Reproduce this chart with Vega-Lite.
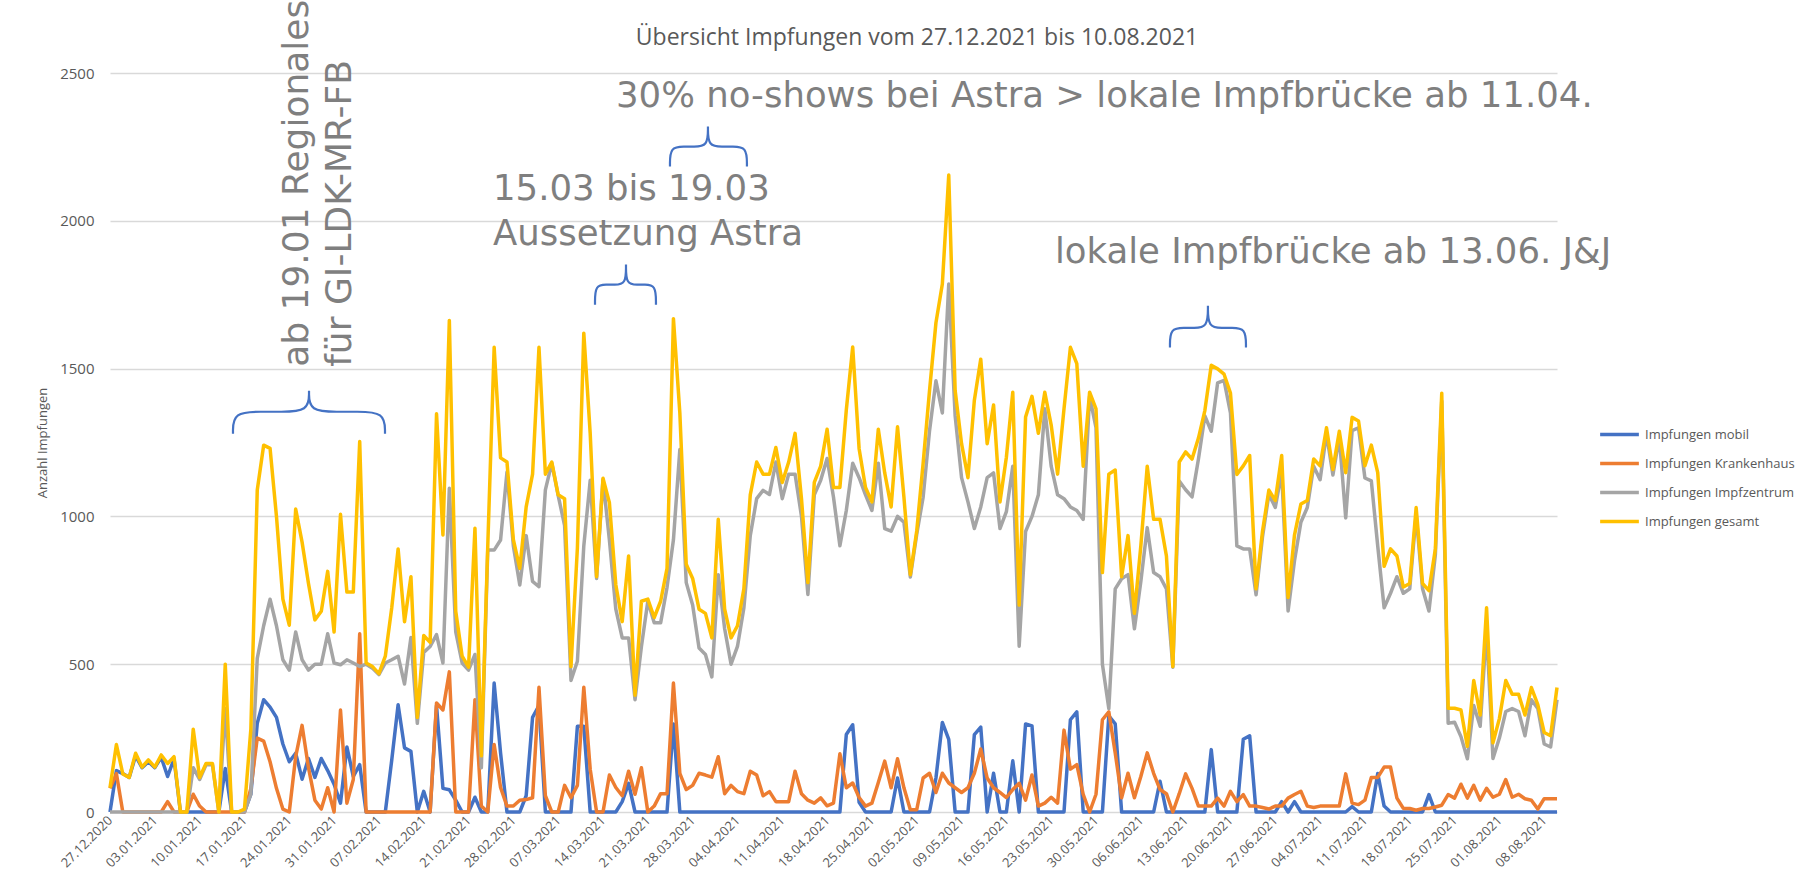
{
  "$schema": "https://vega.github.io/schema/vega-lite/v6.json",
  "width": 1447,
  "height": 739,
  "autosize": {"type": "none"},
  "padding": {"left": 110, "top": 73, "right": 259, "bottom": 82},
  "background": "white",
  "config": {
    "view": {"stroke": null},
    "font": "Open Sans",
    "axisY": {"domain": false, "ticks": false, "gridColor": "#D9D9D9", "gridWidth": 1.5, "labelColor": "#595959", "labelFontSize": 15, "labelPadding": 16, "titleColor": "#595959", "titleFontSize": 13, "titleFontWeight": "normal", "titlePadding": 10},
    "axisX": {"grid": false, "domain": false, "ticks": false, "labelColor": "#595959", "labelFontSize": 13, "labelAngle": -45, "labelAlign": "right", "labelBaseline": "middle", "labelPadding": 6, "labelOverlap": false, "labelBound": false}
  },
  "data": {"values": [
    {"datum":"2020-12-27","mobil":0,"Krankenhaus":80,"Impfzentrum":0,"gesamt":82},
    {"datum":"2020-12-28","mobil":140,"Krankenhaus":130,"Impfzentrum":0,"gesamt":228},
    {"datum":"2020-12-29","mobil":130,"Krankenhaus":0,"Impfzentrum":0,"gesamt":129},
    {"datum":"2020-12-30","mobil":117,"Krankenhaus":0,"Impfzentrum":0,"gesamt":117},
    {"datum":"2020-12-31","mobil":190,"Krankenhaus":0,"Impfzentrum":0,"gesamt":199},
    {"datum":"2021-01-01","mobil":150,"Krankenhaus":0,"Impfzentrum":0,"gesamt":152},
    {"datum":"2021-01-02","mobil":170,"Krankenhaus":0,"Impfzentrum":0,"gesamt":176},
    {"datum":"2021-01-03","mobil":150,"Krankenhaus":0,"Impfzentrum":0,"gesamt":152},
    {"datum":"2021-01-04","mobil":185,"Krankenhaus":0,"Impfzentrum":0,"gesamt":193},
    {"datum":"2021-01-05","mobil":120,"Krankenhaus":35,"Impfzentrum":0,"gesamt":164},
    {"datum":"2021-01-06","mobil":180,"Krankenhaus":0,"Impfzentrum":0,"gesamt":187},
    {"datum":"2021-01-07","mobil":0,"Krankenhaus":0,"Impfzentrum":0,"gesamt":0},
    {"datum":"2021-01-08","mobil":0,"Krankenhaus":0,"Impfzentrum":0,"gesamt":0},
    {"datum":"2021-01-09","mobil":0,"Krankenhaus":60,"Impfzentrum":150,"gesamt":280},
    {"datum":"2021-01-10","mobil":0,"Krankenhaus":20,"Impfzentrum":110,"gesamt":117},
    {"datum":"2021-01-11","mobil":0,"Krankenhaus":0,"Impfzentrum":160,"gesamt":164},
    {"datum":"2021-01-12","mobil":0,"Krankenhaus":0,"Impfzentrum":160,"gesamt":164},
    {"datum":"2021-01-13","mobil":0,"Krankenhaus":0,"Impfzentrum":0,"gesamt":0},
    {"datum":"2021-01-14","mobil":147,"Krankenhaus":0,"Impfzentrum":350,"gesamt":500},
    {"datum":"2021-01-15","mobil":0,"Krankenhaus":0,"Impfzentrum":0,"gesamt":0},
    {"datum":"2021-01-16","mobil":0,"Krankenhaus":0,"Impfzentrum":0,"gesamt":0},
    {"datum":"2021-01-17","mobil":0,"Krankenhaus":0,"Impfzentrum":0,"gesamt":10},
    {"datum":"2021-01-18","mobil":60,"Krankenhaus":80,"Impfzentrum":60,"gesamt":280},
    {"datum":"2021-01-19","mobil":300,"Krankenhaus":250,"Impfzentrum":520,"gesamt":1089},
    {"datum":"2021-01-20","mobil":380,"Krankenhaus":240,"Impfzentrum":630,"gesamt":1241},
    {"datum":"2021-01-21","mobil":355,"Krankenhaus":170,"Impfzentrum":720,"gesamt":1230},
    {"datum":"2021-01-22","mobil":320,"Krankenhaus":80,"Impfzentrum":630,"gesamt":1000},
    {"datum":"2021-01-23","mobil":230,"Krankenhaus":10,"Impfzentrum":515,"gesamt":720},
    {"datum":"2021-01-24","mobil":170,"Krankenhaus":0,"Impfzentrum":480,"gesamt":632},
    {"datum":"2021-01-25","mobil":199,"Krankenhaus":187,"Impfzentrum":609,"gesamt":1025},
    {"datum":"2021-01-26","mobil":111,"Krankenhaus":293,"Impfzentrum":515,"gesamt":913},
    {"datum":"2021-01-27","mobil":181,"Krankenhaus":150,"Impfzentrum":480,"gesamt":773},
    {"datum":"2021-01-28","mobil":117,"Krankenhaus":40,"Impfzentrum":500,"gesamt":650},
    {"datum":"2021-01-29","mobil":181,"Krankenhaus":10,"Impfzentrum":500,"gesamt":679},
    {"datum":"2021-01-30","mobil":140,"Krankenhaus":82,"Impfzentrum":603,"gesamt":814},
    {"datum":"2021-01-31","mobil":94,"Krankenhaus":0,"Impfzentrum":504,"gesamt":609},
    {"datum":"2021-02-01","mobil":30,"Krankenhaus":345,"Impfzentrum":498,"gesamt":1007},
    {"datum":"2021-02-02","mobil":220,"Krankenhaus":30,"Impfzentrum":515,"gesamt":744},
    {"datum":"2021-02-03","mobil":120,"Krankenhaus":110,"Impfzentrum":504,"gesamt":744},
    {"datum":"2021-02-04","mobil":160,"Krankenhaus":603,"Impfzentrum":492,"gesamt":1253},
    {"datum":"2021-02-05","mobil":0,"Krankenhaus":0,"Impfzentrum":500,"gesamt":504},
    {"datum":"2021-02-06","mobil":0,"Krankenhaus":0,"Impfzentrum":486,"gesamt":492},
    {"datum":"2021-02-07","mobil":0,"Krankenhaus":0,"Impfzentrum":465,"gesamt":468},
    {"datum":"2021-02-08","mobil":0,"Krankenhaus":0,"Impfzentrum":504,"gesamt":527},
    {"datum":"2021-02-09","mobil":175,"Krankenhaus":0,"Impfzentrum":515,"gesamt":690},
    {"datum":"2021-02-10","mobil":363,"Krankenhaus":0,"Impfzentrum":527,"gesamt":890},
    {"datum":"2021-02-11","mobil":217,"Krankenhaus":0,"Impfzentrum":433,"gesamt":644},
    {"datum":"2021-02-12","mobil":205,"Krankenhaus":0,"Impfzentrum":590,"gesamt":796},
    {"datum":"2021-02-13","mobil":0,"Krankenhaus":0,"Impfzentrum":300,"gesamt":320},
    {"datum":"2021-02-14","mobil":70,"Krankenhaus":0,"Impfzentrum":540,"gesamt":597},
    {"datum":"2021-02-15","mobil":0,"Krankenhaus":0,"Impfzentrum":560,"gesamt":574},
    {"datum":"2021-02-16","mobil":360,"Krankenhaus":369,"Impfzentrum":600,"gesamt":1347},
    {"datum":"2021-02-17","mobil":80,"Krankenhaus":345,"Impfzentrum":504,"gesamt":937},
    {"datum":"2021-02-18","mobil":75,"Krankenhaus":474,"Impfzentrum":1095,"gesamt":1663},
    {"datum":"2021-02-19","mobil":40,"Krankenhaus":0,"Impfzentrum":609,"gesamt":679},
    {"datum":"2021-02-20","mobil":0,"Krankenhaus":0,"Impfzentrum":504,"gesamt":527},
    {"datum":"2021-02-21","mobil":0,"Krankenhaus":0,"Impfzentrum":480,"gesamt":490},
    {"datum":"2021-02-22","mobil":50,"Krankenhaus":380,"Impfzentrum":533,"gesamt":960},
    {"datum":"2021-02-23","mobil":0,"Krankenhaus":20,"Impfzentrum":150,"gesamt":190},
    {"datum":"2021-02-24","mobil":0,"Krankenhaus":0,"Impfzentrum":886,"gesamt":900},
    {"datum":"2021-02-25","mobil":436,"Krankenhaus":228,"Impfzentrum":886,"gesamt":1572},
    {"datum":"2021-02-26","mobil":200,"Krankenhaus":83,"Impfzentrum":920,"gesamt":1198},
    {"datum":"2021-02-27","mobil":0,"Krankenhaus":20,"Impfzentrum":1150,"gesamt":1184},
    {"datum":"2021-02-28","mobil":0,"Krankenhaus":20,"Impfzentrum":900,"gesamt":921},
    {"datum":"2021-03-01","mobil":0,"Krankenhaus":40,"Impfzentrum":768,"gesamt":824},
    {"datum":"2021-03-02","mobil":55,"Krankenhaus":42,"Impfzentrum":935,"gesamt":1032},
    {"datum":"2021-03-03","mobil":320,"Krankenhaus":48,"Impfzentrum":780,"gesamt":1143},
    {"datum":"2021-03-04","mobil":360,"Krankenhaus":422,"Impfzentrum":762,"gesamt":1572},
    {"datum":"2021-03-05","mobil":0,"Krankenhaus":55,"Impfzentrum":1090,"gesamt":1143},
    {"datum":"2021-03-06","mobil":0,"Krankenhaus":0,"Impfzentrum":1180,"gesamt":1184},
    {"datum":"2021-03-07","mobil":0,"Krankenhaus":0,"Impfzentrum":1070,"gesamt":1073},
    {"datum":"2021-03-08","mobil":0,"Krankenhaus":90,"Impfzentrum":970,"gesamt":1060},
    {"datum":"2021-03-09","mobil":0,"Krankenhaus":48,"Impfzentrum":445,"gesamt":492},
    {"datum":"2021-03-10","mobil":290,"Krankenhaus":90,"Impfzentrum":510,"gesamt":893},
    {"datum":"2021-03-11","mobil":290,"Krankenhaus":422,"Impfzentrum":900,"gesamt":1620},
    {"datum":"2021-03-12","mobil":0,"Krankenhaus":145,"Impfzentrum":1122,"gesamt":1281},
    {"datum":"2021-03-13","mobil":0,"Krankenhaus":0,"Impfzentrum":790,"gesamt":796},
    {"datum":"2021-03-14","mobil":0,"Krankenhaus":0,"Impfzentrum":1125,"gesamt":1129},
    {"datum":"2021-03-15","mobil":0,"Krankenhaus":125,"Impfzentrum":920,"gesamt":1046},
    {"datum":"2021-03-16","mobil":0,"Krankenhaus":83,"Impfzentrum":686,"gesamt":769},
    {"datum":"2021-03-17","mobil":35,"Krankenhaus":55,"Impfzentrum":589,"gesamt":644},
    {"datum":"2021-03-18","mobil":97,"Krankenhaus":138,"Impfzentrum":589,"gesamt":866},
    {"datum":"2021-03-19","mobil":0,"Krankenhaus":60,"Impfzentrum":380,"gesamt":395},
    {"datum":"2021-03-20","mobil":0,"Krankenhaus":150,"Impfzentrum":560,"gesamt":713},
    {"datum":"2021-03-21","mobil":0,"Krankenhaus":0,"Impfzentrum":713,"gesamt":720},
    {"datum":"2021-03-22","mobil":0,"Krankenhaus":20,"Impfzentrum":640,"gesamt":658},
    {"datum":"2021-03-23","mobil":0,"Krankenhaus":62,"Impfzentrum":640,"gesamt":713},
    {"datum":"2021-03-24","mobil":0,"Krankenhaus":62,"Impfzentrum":760,"gesamt":824},
    {"datum":"2021-03-25","mobil":298,"Krankenhaus":436,"Impfzentrum":921,"gesamt":1669},
    {"datum":"2021-03-26","mobil":0,"Krankenhaus":131,"Impfzentrum":1226,"gesamt":1350},
    {"datum":"2021-03-27","mobil":0,"Krankenhaus":76,"Impfzentrum":776,"gesamt":838},
    {"datum":"2021-03-28","mobil":0,"Krankenhaus":90,"Impfzentrum":700,"gesamt":790},
    {"datum":"2021-03-29","mobil":0,"Krankenhaus":131,"Impfzentrum":555,"gesamt":686},
    {"datum":"2021-03-30","mobil":0,"Krankenhaus":125,"Impfzentrum":533,"gesamt":672},
    {"datum":"2021-03-31","mobil":0,"Krankenhaus":118,"Impfzentrum":457,"gesamt":589},
    {"datum":"2021-04-01","mobil":0,"Krankenhaus":187,"Impfzentrum":803,"gesamt":990},
    {"datum":"2021-04-02","mobil":0,"Krankenhaus":62,"Impfzentrum":620,"gesamt":686},
    {"datum":"2021-04-03","mobil":0,"Krankenhaus":90,"Impfzentrum":500,"gesamt":589},
    {"datum":"2021-04-04","mobil":0,"Krankenhaus":69,"Impfzentrum":560,"gesamt":630},
    {"datum":"2021-04-05","mobil":0,"Krankenhaus":62,"Impfzentrum":690,"gesamt":755},
    {"datum":"2021-04-06","mobil":0,"Krankenhaus":138,"Impfzentrum":935,"gesamt":1073},
    {"datum":"2021-04-07","mobil":0,"Krankenhaus":125,"Impfzentrum":1060,"gesamt":1184},
    {"datum":"2021-04-08","mobil":0,"Krankenhaus":55,"Impfzentrum":1088,"gesamt":1143},
    {"datum":"2021-04-09","mobil":0,"Krankenhaus":69,"Impfzentrum":1074,"gesamt":1143},
    {"datum":"2021-04-10","mobil":0,"Krankenhaus":35,"Impfzentrum":1184,"gesamt":1233},
    {"datum":"2021-04-11","mobil":0,"Krankenhaus":35,"Impfzentrum":1060,"gesamt":1115},
    {"datum":"2021-04-12","mobil":0,"Krankenhaus":35,"Impfzentrum":1143,"gesamt":1184},
    {"datum":"2021-04-13","mobil":0,"Krankenhaus":138,"Impfzentrum":1143,"gesamt":1281},
    {"datum":"2021-04-14","mobil":0,"Krankenhaus":62,"Impfzentrum":1000,"gesamt":1060},
    {"datum":"2021-04-15","mobil":0,"Krankenhaus":40,"Impfzentrum":736,"gesamt":776},
    {"datum":"2021-04-16","mobil":0,"Krankenhaus":30,"Impfzentrum":1073,"gesamt":1115},
    {"datum":"2021-04-17","mobil":0,"Krankenhaus":48,"Impfzentrum":1122,"gesamt":1170},
    {"datum":"2021-04-18","mobil":0,"Krankenhaus":21,"Impfzentrum":1196,"gesamt":1295},
    {"datum":"2021-04-19","mobil":0,"Krankenhaus":30,"Impfzentrum":1065,"gesamt":1098},
    {"datum":"2021-04-20","mobil":0,"Krankenhaus":197,"Impfzentrum":901,"gesamt":1098},
    {"datum":"2021-04-21","mobil":262,"Krankenhaus":82,"Impfzentrum":1020,"gesamt":1360},
    {"datum":"2021-04-22","mobil":295,"Krankenhaus":98,"Impfzentrum":1180,"gesamt":1573},
    {"datum":"2021-04-23","mobil":33,"Krankenhaus":49,"Impfzentrum":1131,"gesamt":1229},
    {"datum":"2021-04-24","mobil":0,"Krankenhaus":20,"Impfzentrum":1073,"gesamt":1098},
    {"datum":"2021-04-25","mobil":0,"Krankenhaus":30,"Impfzentrum":1020,"gesamt":1049},
    {"datum":"2021-04-26","mobil":0,"Krankenhaus":100,"Impfzentrum":1180,"gesamt":1295},
    {"datum":"2021-04-27","mobil":0,"Krankenhaus":172,"Impfzentrum":959,"gesamt":1147},
    {"datum":"2021-04-28","mobil":0,"Krankenhaus":82,"Impfzentrum":950,"gesamt":1032},
    {"datum":"2021-04-29","mobil":115,"Krankenhaus":180,"Impfzentrum":1000,"gesamt":1303},
    {"datum":"2021-04-30","mobil":0,"Krankenhaus":82,"Impfzentrum":980,"gesamt":1065},
    {"datum":"2021-05-01","mobil":0,"Krankenhaus":8,"Impfzentrum":795,"gesamt":803},
    {"datum":"2021-05-02","mobil":0,"Krankenhaus":8,"Impfzentrum":940,"gesamt":951},
    {"datum":"2021-05-03","mobil":0,"Krankenhaus":115,"Impfzentrum":1065,"gesamt":1180},
    {"datum":"2021-05-04","mobil":0,"Krankenhaus":131,"Impfzentrum":1290,"gesamt":1426},
    {"datum":"2021-05-05","mobil":115,"Krankenhaus":66,"Impfzentrum":1459,"gesamt":1655},
    {"datum":"2021-05-06","mobil":303,"Krankenhaus":131,"Impfzentrum":1350,"gesamt":1786},
    {"datum":"2021-05-07","mobil":246,"Krankenhaus":98,"Impfzentrum":1786,"gesamt":2155},
    {"datum":"2021-05-08","mobil":0,"Krankenhaus":82,"Impfzentrum":1340,"gesamt":1426},
    {"datum":"2021-05-09","mobil":0,"Krankenhaus":66,"Impfzentrum":1131,"gesamt":1246},
    {"datum":"2021-05-10","mobil":0,"Krankenhaus":82,"Impfzentrum":1049,"gesamt":1131},
    {"datum":"2021-05-11","mobil":262,"Krankenhaus":131,"Impfzentrum":959,"gesamt":1393},
    {"datum":"2021-05-12","mobil":287,"Krankenhaus":213,"Impfzentrum":1032,"gesamt":1532},
    {"datum":"2021-05-13","mobil":0,"Krankenhaus":115,"Impfzentrum":1131,"gesamt":1246},
    {"datum":"2021-05-14","mobil":131,"Krankenhaus":82,"Impfzentrum":1147,"gesamt":1377},
    {"datum":"2021-05-15","mobil":0,"Krankenhaus":66,"Impfzentrum":959,"gesamt":1049},
    {"datum":"2021-05-16","mobil":0,"Krankenhaus":49,"Impfzentrum":1016,"gesamt":1200},
    {"datum":"2021-05-17","mobil":173,"Krankenhaus":76,"Impfzentrum":1170,"gesamt":1420},
    {"datum":"2021-05-18","mobil":0,"Krankenhaus":97,"Impfzentrum":561,"gesamt":700},
    {"datum":"2021-05-19","mobil":298,"Krankenhaus":40,"Impfzentrum":949,"gesamt":1336},
    {"datum":"2021-05-20","mobil":291,"Krankenhaus":125,"Impfzentrum":1000,"gesamt":1406},
    {"datum":"2021-05-21","mobil":0,"Krankenhaus":20,"Impfzentrum":1073,"gesamt":1281},
    {"datum":"2021-05-22","mobil":0,"Krankenhaus":30,"Impfzentrum":1364,"gesamt":1420},
    {"datum":"2021-05-23","mobil":0,"Krankenhaus":50,"Impfzentrum":1170,"gesamt":1309},
    {"datum":"2021-05-24","mobil":0,"Krankenhaus":30,"Impfzentrum":1073,"gesamt":1143},
    {"datum":"2021-05-25","mobil":0,"Krankenhaus":277,"Impfzentrum":1060,"gesamt":1364},
    {"datum":"2021-05-26","mobil":312,"Krankenhaus":145,"Impfzentrum":1032,"gesamt":1572},
    {"datum":"2021-05-27","mobil":339,"Krankenhaus":160,"Impfzentrum":1020,"gesamt":1517},
    {"datum":"2021-05-28","mobil":0,"Krankenhaus":60,"Impfzentrum":990,"gesamt":1170},
    {"datum":"2021-05-29","mobil":0,"Krankenhaus":0,"Impfzentrum":1406,"gesamt":1420},
    {"datum":"2021-05-30","mobil":0,"Krankenhaus":60,"Impfzentrum":1300,"gesamt":1364},
    {"datum":"2021-05-31","mobil":0,"Krankenhaus":312,"Impfzentrum":500,"gesamt":810},
    {"datum":"2021-06-01","mobil":325,"Krankenhaus":339,"Impfzentrum":350,"gesamt":1143},
    {"datum":"2021-06-02","mobil":298,"Krankenhaus":200,"Impfzentrum":755,"gesamt":1157},
    {"datum":"2021-06-03","mobil":0,"Krankenhaus":48,"Impfzentrum":789,"gesamt":796},
    {"datum":"2021-06-04","mobil":0,"Krankenhaus":131,"Impfzentrum":803,"gesamt":935},
    {"datum":"2021-06-05","mobil":0,"Krankenhaus":48,"Impfzentrum":620,"gesamt":672},
    {"datum":"2021-06-06","mobil":0,"Krankenhaus":120,"Impfzentrum":780,"gesamt":900},
    {"datum":"2021-06-07","mobil":0,"Krankenhaus":200,"Impfzentrum":962,"gesamt":1170},
    {"datum":"2021-06-08","mobil":0,"Krankenhaus":131,"Impfzentrum":810,"gesamt":990},
    {"datum":"2021-06-09","mobil":104,"Krankenhaus":76,"Impfzentrum":796,"gesamt":990},
    {"datum":"2021-06-10","mobil":0,"Krankenhaus":62,"Impfzentrum":755,"gesamt":866},
    {"datum":"2021-06-11","mobil":0,"Krankenhaus":0,"Impfzentrum":490,"gesamt":492},
    {"datum":"2021-06-12","mobil":0,"Krankenhaus":62,"Impfzentrum":1120,"gesamt":1184},
    {"datum":"2021-06-13","mobil":0,"Krankenhaus":129,"Impfzentrum":1090,"gesamt":1218},
    {"datum":"2021-06-14","mobil":0,"Krankenhaus":80,"Impfzentrum":1066,"gesamt":1194},
    {"datum":"2021-06-15","mobil":0,"Krankenhaus":20,"Impfzentrum":1194,"gesamt":1265},
    {"datum":"2021-06-16","mobil":0,"Krankenhaus":20,"Impfzentrum":1340,"gesamt":1358},
    {"datum":"2021-06-17","mobil":211,"Krankenhaus":20,"Impfzentrum":1288,"gesamt":1511},
    {"datum":"2021-06-18","mobil":0,"Krankenhaus":47,"Impfzentrum":1452,"gesamt":1499},
    {"datum":"2021-06-19","mobil":0,"Krankenhaus":20,"Impfzentrum":1460,"gesamt":1481},
    {"datum":"2021-06-20","mobil":0,"Krankenhaus":70,"Impfzentrum":1350,"gesamt":1417},
    {"datum":"2021-06-21","mobil":0,"Krankenhaus":35,"Impfzentrum":900,"gesamt":1142},
    {"datum":"2021-06-22","mobil":246,"Krankenhaus":59,"Impfzentrum":890,"gesamt":1171},
    {"datum":"2021-06-23","mobil":258,"Krankenhaus":20,"Impfzentrum":890,"gesamt":1206},
    {"datum":"2021-06-24","mobil":0,"Krankenhaus":20,"Impfzentrum":735,"gesamt":755},
    {"datum":"2021-06-25","mobil":0,"Krankenhaus":15,"Impfzentrum":930,"gesamt":949},
    {"datum":"2021-06-26","mobil":0,"Krankenhaus":10,"Impfzentrum":1075,"gesamt":1089},
    {"datum":"2021-06-27","mobil":0,"Krankenhaus":20,"Impfzentrum":1030,"gesamt":1054},
    {"datum":"2021-06-28","mobil":35,"Krankenhaus":20,"Impfzentrum":1150,"gesamt":1206},
    {"datum":"2021-06-29","mobil":0,"Krankenhaus":47,"Impfzentrum":680,"gesamt":726},
    {"datum":"2021-06-30","mobil":35,"Krankenhaus":59,"Impfzentrum":850,"gesamt":937},
    {"datum":"2021-07-01","mobil":0,"Krankenhaus":70,"Impfzentrum":980,"gesamt":1042},
    {"datum":"2021-07-02","mobil":0,"Krankenhaus":20,"Impfzentrum":1030,"gesamt":1054},
    {"datum":"2021-07-03","mobil":0,"Krankenhaus":15,"Impfzentrum":1170,"gesamt":1194},
    {"datum":"2021-07-04","mobil":0,"Krankenhaus":20,"Impfzentrum":1124,"gesamt":1171},
    {"datum":"2021-07-05","mobil":0,"Krankenhaus":20,"Impfzentrum":1280,"gesamt":1300},
    {"datum":"2021-07-06","mobil":0,"Krankenhaus":20,"Impfzentrum":1140,"gesamt":1159},
    {"datum":"2021-07-07","mobil":0,"Krankenhaus":20,"Impfzentrum":1268,"gesamt":1288},
    {"datum":"2021-07-08","mobil":0,"Krankenhaus":129,"Impfzentrum":995,"gesamt":1148},
    {"datum":"2021-07-09","mobil":18,"Krankenhaus":30,"Impfzentrum":1290,"gesamt":1335},
    {"datum":"2021-07-10","mobil":0,"Krankenhaus":25,"Impfzentrum":1300,"gesamt":1323},
    {"datum":"2021-07-11","mobil":0,"Krankenhaus":40,"Impfzentrum":1130,"gesamt":1171},
    {"datum":"2021-07-12","mobil":0,"Krankenhaus":117,"Impfzentrum":1120,"gesamt":1241},
    {"datum":"2021-07-13","mobil":130,"Krankenhaus":117,"Impfzentrum":900,"gesamt":1148},
    {"datum":"2021-07-14","mobil":20,"Krankenhaus":152,"Impfzentrum":691,"gesamt":831},
    {"datum":"2021-07-15","mobil":0,"Krankenhaus":152,"Impfzentrum":740,"gesamt":890},
    {"datum":"2021-07-16","mobil":0,"Krankenhaus":47,"Impfzentrum":796,"gesamt":866},
    {"datum":"2021-07-17","mobil":0,"Krankenhaus":12,"Impfzentrum":740,"gesamt":761},
    {"datum":"2021-07-18","mobil":0,"Krankenhaus":12,"Impfzentrum":755,"gesamt":773},
    {"datum":"2021-07-19","mobil":0,"Krankenhaus":6,"Impfzentrum":1007,"gesamt":1030},
    {"datum":"2021-07-20","mobil":0,"Krankenhaus":12,"Impfzentrum":755,"gesamt":773},
    {"datum":"2021-07-21","mobil":59,"Krankenhaus":12,"Impfzentrum":680,"gesamt":749},
    {"datum":"2021-07-22","mobil":0,"Krankenhaus":17,"Impfzentrum":870,"gesamt":890},
    {"datum":"2021-07-23","mobil":0,"Krankenhaus":23,"Impfzentrum":1390,"gesamt":1417},
    {"datum":"2021-07-24","mobil":0,"Krankenhaus":59,"Impfzentrum":300,"gesamt":351},
    {"datum":"2021-07-25","mobil":0,"Krankenhaus":47,"Impfzentrum":304,"gesamt":351},
    {"datum":"2021-07-26","mobil":0,"Krankenhaus":94,"Impfzentrum":255,"gesamt":345},
    {"datum":"2021-07-27","mobil":0,"Krankenhaus":47,"Impfzentrum":180,"gesamt":222},
    {"datum":"2021-07-28","mobil":0,"Krankenhaus":90,"Impfzentrum":360,"gesamt":445},
    {"datum":"2021-07-29","mobil":0,"Krankenhaus":40,"Impfzentrum":290,"gesamt":328},
    {"datum":"2021-07-30","mobil":0,"Krankenhaus":80,"Impfzentrum":620,"gesamt":691},
    {"datum":"2021-07-31","mobil":0,"Krankenhaus":50,"Impfzentrum":181,"gesamt":234},
    {"datum":"2021-08-01","mobil":0,"Krankenhaus":60,"Impfzentrum":250,"gesamt":316},
    {"datum":"2021-08-02","mobil":0,"Krankenhaus":110,"Impfzentrum":340,"gesamt":445},
    {"datum":"2021-08-03","mobil":0,"Krankenhaus":50,"Impfzentrum":350,"gesamt":398},
    {"datum":"2021-08-04","mobil":0,"Krankenhaus":60,"Impfzentrum":340,"gesamt":398},
    {"datum":"2021-08-05","mobil":0,"Krankenhaus":45,"Impfzentrum":258,"gesamt":328},
    {"datum":"2021-08-06","mobil":0,"Krankenhaus":40,"Impfzentrum":380,"gesamt":421},
    {"datum":"2021-08-07","mobil":0,"Krankenhaus":10,"Impfzentrum":350,"gesamt":363},
    {"datum":"2021-08-08","mobil":0,"Krankenhaus":45,"Impfzentrum":230,"gesamt":269},
    {"datum":"2021-08-09","mobil":0,"Krankenhaus":45,"Impfzentrum":220,"gesamt":258},
    {"datum":"2021-08-10","mobil":0,"Krankenhaus":45,"Impfzentrum":380,"gesamt":421}
  ]},
  "layer": [
    {
      "mark": {"type": "line", "strokeWidth": 3.5, "strokeJoin": "round"},
      "encoding": {
        "x": {"field": "datum", "type": "temporal", "title": null,
              "scale": {"type": "utc", "nice": false, "domain": [{"year": 2020, "month": 12, "date": 27, "utc": true}, {"year": 2021, "month": 8, "date": 10, "utc": true}]},
              "axis": {"format": "%d.%m.%Y", "tickCount": {"interval": "week", "step": 1}}},
        "y": {"field": "mobil", "type": "quantitative", "title": "Anzahl Impfungen",
              "scale": {"domain": [0, 2500], "nice": false},
              "axis": {"values": [0, 500, 1000, 1500, 2000, 2500], "format": "d"}},
        "color": {"datum": "Impfungen mobil",
                  "scale": {"domain": ["Impfungen mobil", "Impfungen Krankenhaus", "Impfungen Impfzentrum", "Impfungen gesamt"], "range": ["#4472C4", "#ED7D31", "#A5A5A5", "#FFC000"]},
                  "legend": {"orient": "none", "legendX": 1488, "legendY": 340, "title": null, "symbolType": "stroke", "symbolStrokeWidth": 3.5, "symbolSize": 1500, "labelFontSize": 13, "labelColor": "#595959", "labelFont": "Open Sans", "labelLimit": 400, "rowPadding": -9, "labelOffset": 4}}
      }
    },
    {
      "mark": {"type": "line", "strokeWidth": 3.5, "strokeJoin": "round"},
      "encoding": {
        "x": {"field": "datum", "type": "temporal", "title": null},
        "y": {"field": "Krankenhaus", "type": "quantitative", "title": "Anzahl Impfungen"},
        "color": {"datum": "Impfungen Krankenhaus"}
      }
    },
    {
      "mark": {"type": "line", "strokeWidth": 3.5, "strokeJoin": "round"},
      "encoding": {
        "x": {"field": "datum", "type": "temporal", "title": null},
        "y": {"field": "Impfzentrum", "type": "quantitative", "title": "Anzahl Impfungen"},
        "color": {"datum": "Impfungen Impfzentrum"}
      }
    },
    {
      "mark": {"type": "line", "strokeWidth": 3.5, "strokeJoin": "round"},
      "encoding": {
        "x": {"field": "datum", "type": "temporal", "title": null},
        "y": {"field": "gesamt", "type": "quantitative", "title": "Anzahl Impfungen"},
        "color": {"datum": "Impfungen gesamt"}
      }
    },
    {
      "data": {"values": [
        {"b": 1, "o": 1, "datum": "2021-01-15T05:00:00Z", "v": 1280},
        {"b": 1, "o": 2, "datum": "2021-01-15T05:00:00Z", "v": 1354},
        {"b": 1, "o": 3, "datum": "2021-01-19T21:36:00Z", "v": 1354},
        {"b": 1, "o": 4, "datum": "2021-01-22T09:22:00Z", "v": 1354},
        {"b": 1, "o": 5, "datum": "2021-01-27T02:00:00Z", "v": 1354},
        {"b": 1, "o": 6, "datum": "2021-01-27T02:00:00Z", "v": 1425},
        {"b": 1, "o": 7, "datum": "2021-01-27T02:00:00Z", "v": 1425},
        {"b": 1, "o": 8, "datum": "2021-01-27T02:00:00Z", "v": 1425},
        {"b": 1, "o": 9, "datum": "2021-01-27T02:00:00Z", "v": 1354},
        {"b": 1, "o": 10, "datum": "2021-01-31T18:14:00Z", "v": 1354},
        {"b": 1, "o": 11, "datum": "2021-02-03T06:14:00Z", "v": 1354},
        {"b": 1, "o": 12, "datum": "2021-02-07T22:48:00Z", "v": 1354},
        {"b": 1, "o": 13, "datum": "2021-02-07T22:48:00Z", "v": 1280},
        {"b": 2, "o": 1, "datum": "2021-03-24T11:00:00Z", "v": 2184},
        {"b": 2, "o": 2, "datum": "2021-03-24T11:00:00Z", "v": 2251},
        {"b": 2, "o": 3, "datum": "2021-03-26T19:12:00Z", "v": 2251},
        {"b": 2, "o": 4, "datum": "2021-03-28T01:12:00Z", "v": 2251},
        {"b": 2, "o": 5, "datum": "2021-03-30T09:22:00Z", "v": 2251},
        {"b": 2, "o": 6, "datum": "2021-03-30T09:22:00Z", "v": 2319},
        {"b": 2, "o": 7, "datum": "2021-03-30T09:22:00Z", "v": 2319},
        {"b": 2, "o": 8, "datum": "2021-03-30T09:22:00Z", "v": 2319},
        {"b": 2, "o": 9, "datum": "2021-03-30T09:22:00Z", "v": 2251},
        {"b": 2, "o": 10, "datum": "2021-04-01T17:46:00Z", "v": 2251},
        {"b": 2, "o": 11, "datum": "2021-04-03T03:22:00Z", "v": 2251},
        {"b": 2, "o": 12, "datum": "2021-04-05T11:31:00Z", "v": 2251},
        {"b": 2, "o": 13, "datum": "2021-04-05T11:31:00Z", "v": 2184},
        {"b": 3, "o": 1, "datum": "2021-03-12T18:00:00Z", "v": 1716},
        {"b": 3, "o": 2, "datum": "2021-03-12T18:00:00Z", "v": 1784},
        {"b": 3, "o": 3, "datum": "2021-03-14T14:53:00Z", "v": 1784},
        {"b": 3, "o": 4, "datum": "2021-03-15T17:02:00Z", "v": 1784},
        {"b": 3, "o": 5, "datum": "2021-03-17T14:10:00Z", "v": 1784},
        {"b": 3, "o": 6, "datum": "2021-03-17T14:10:00Z", "v": 1852},
        {"b": 3, "o": 7, "datum": "2021-03-17T14:10:00Z", "v": 1852},
        {"b": 3, "o": 8, "datum": "2021-03-17T14:10:00Z", "v": 1852},
        {"b": 3, "o": 9, "datum": "2021-03-17T14:10:00Z", "v": 1784},
        {"b": 3, "o": 10, "datum": "2021-03-19T11:02:00Z", "v": 1784},
        {"b": 3, "o": 11, "datum": "2021-03-20T09:36:00Z", "v": 1784},
        {"b": 3, "o": 12, "datum": "2021-03-22T06:29:00Z", "v": 1784},
        {"b": 3, "o": 13, "datum": "2021-03-22T06:29:00Z", "v": 1716},
        {"b": 4, "o": 1, "datum": "2021-06-10T13:12:00Z", "v": 1571},
        {"b": 4, "o": 2, "datum": "2021-06-10T13:12:00Z", "v": 1638},
        {"b": 4, "o": 3, "datum": "2021-06-12T21:22:00Z", "v": 1638},
        {"b": 4, "o": 4, "datum": "2021-06-14T03:22:00Z", "v": 1638},
        {"b": 4, "o": 5, "datum": "2021-06-16T11:31:00Z", "v": 1638},
        {"b": 4, "o": 6, "datum": "2021-06-16T11:31:00Z", "v": 1713},
        {"b": 4, "o": 7, "datum": "2021-06-16T11:31:00Z", "v": 1713},
        {"b": 4, "o": 8, "datum": "2021-06-16T11:31:00Z", "v": 1713},
        {"b": 4, "o": 9, "datum": "2021-06-16T11:31:00Z", "v": 1638},
        {"b": 4, "o": 10, "datum": "2021-06-18T19:41:00Z", "v": 1638},
        {"b": 4, "o": 11, "datum": "2021-06-20T01:41:00Z", "v": 1638},
        {"b": 4, "o": 12, "datum": "2021-06-22T10:05:00Z", "v": 1638},
        {"b": 4, "o": 13, "datum": "2021-06-22T10:05:00Z", "v": 1571}
      ]},
      "mark": {"type": "line", "interpolate": "basis", "color": "#4472C4", "strokeWidth": 2.2},
      "encoding": {
        "x": {"field": "datum", "type": "temporal", "title": null},
        "y": {"field": "v", "type": "quantitative", "title": "Anzahl Impfungen"},
        "detail": {"field": "b"},
        "order": {"field": "o"}
      }
    },
    {
      "data": {"values": [
        {"datum": "2021-03-16T00:45:00Z", "v": 2385, "label": "30% no-shows bei Astra > lokale Impfbrücke ab 11.04."},
        {"datum": "2021-02-24T19:41:00Z", "v": 2072, "label": "15.03 bis 19.03"},
        {"datum": "2021-02-24T19:41:00Z", "v": 1919, "label": "Aussetzung Astra"},
        {"datum": "2021-05-23T13:55:00Z", "v": 1858, "label": "lokale Impfbrücke ab 13.06. J&J"}
      ]},
      "mark": {"type": "text", "align": "left", "baseline": "alphabetic", "font": "DejaVu Sans", "fontSize": 35.5, "color": "#7F7F7F"},
      "encoding": {
        "x": {"field": "datum", "type": "temporal", "title": null},
        "y": {"field": "v", "type": "quantitative", "title": "Anzahl Impfungen"},
        "text": {"field": "label"}
      }
    },
    {
      "data": {"values": [
        {"datum": "2021-01-26T22:05:00Z", "v": 1506, "label": "ab 19.01 Regionales"},
        {"datum": "2021-02-02T15:22:00Z", "v": 1506, "label": "für GI-LDK-MR-FB"}
      ]},
      "mark": {"type": "text", "align": "left", "baseline": "alphabetic", "angle": 270, "font": "DejaVu Sans", "fontSize": 36, "color": "#7F7F7F"},
      "encoding": {
        "x": {"field": "datum", "type": "temporal", "title": null},
        "y": {"field": "v", "type": "quantitative", "title": "Anzahl Impfungen"},
        "text": {"field": "label"}
      }
    },
    {
      "data": {"values": [
        {"datum": "2021-05-02T01:00:00Z", "v": 2595, "label": "Übersicht Impfungen vom 27.12.2021 bis 10.08.2021"}
      ]},
      "mark": {"type": "text", "align": "center", "baseline": "alphabetic", "font": "Open Sans", "fontSize": 23, "color": "#595959"},
      "encoding": {
        "x": {"field": "datum", "type": "temporal", "title": null},
        "y": {"field": "v", "type": "quantitative", "title": "Anzahl Impfungen"},
        "text": {"field": "label"}
      }
    }
  ]
}
